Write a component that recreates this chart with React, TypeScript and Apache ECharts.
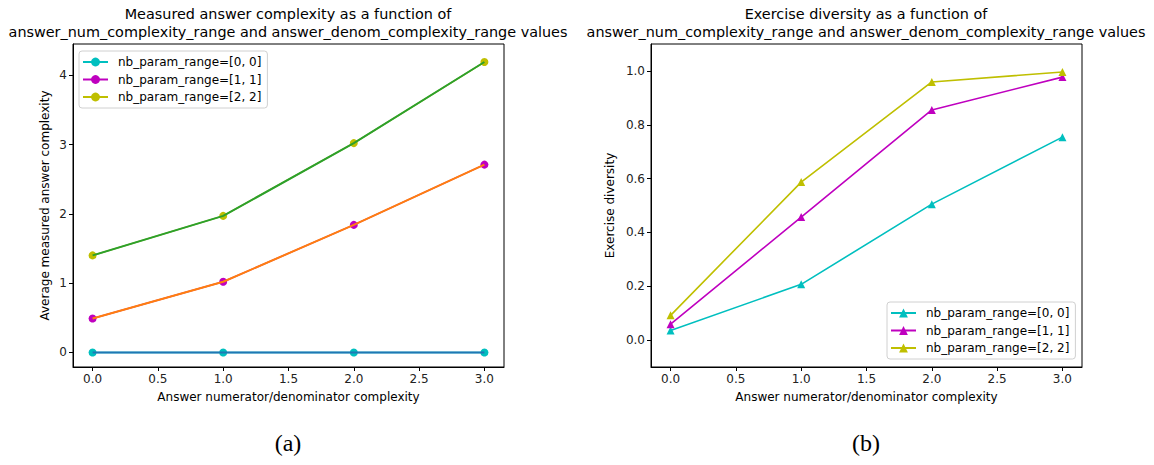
import React, { useEffect, useRef } from "react";
import * as echarts from "echarts";

const complexity = [0, 1, 2, 3];
const seriesLabels = ["nb_param_range=[0, 0]", "nb_param_range=[1, 1]", "nb_param_range=[2, 2]"];
const measured0 = [0, 0, 0, 0];
const measured1 = [0.49, 1.02, 1.84, 2.71];
const measured2 = [1.4, 1.97, 3.02, 4.19];
const diversity0 = [0.036, 0.207, 0.505, 0.754];
const diversity1 = [0.059, 0.457, 0.855, 0.977];
const diversity2 = [0.092, 0.587, 0.959, 0.996];
const xTicks = [0, 0.5, 1, 1.5, 2, 2.5, 3];
const leftYTicks = [0, 1, 2, 3, 4];
const rightYTicks = [0, 0.2, 0.4, 0.6, 0.8, 1.0];

const markerColors = ["#00bfbf", "#bf00bf", "#bfbf00"];
const lineColors = ["#1f77b4", "#ff7f0e", "#2ca02c"];

const titleA = "Measured answer complexity as a function of\nanswer_num_complexity_range and answer_denom_complexity_range values";
const titleB = "Exercise diversity as a function of\nanswer_num_complexity_range and answer_denom_complexity_range values";
const xName = "Answer numerator/denominator complexity";
const yNameA = "Average measured answer complexity";
const yNameB = "Exercise diversity";

const FONT = "DejaVu Sans";

function pairs(ys: number[]) {
  return complexity.map((x, i) => [x, ys[i]]);
}

function xAxisCfg(gridIndex: number) {
  return {
    type: "value",
    gridIndex,
    min: -0.15,
    max: 3.15,
    name: xName,
    nameLocation: "middle",
    nameGap: 24,
    nameTextStyle: { fontFamily: FONT, fontSize: 12, color: "#000" },
    axisLine: { show: true, onZero: false, lineStyle: { color: "#000", width: 1 } },
    axisTick: { show: true, customValues: xTicks, length: 4, lineStyle: { color: "#000" } },
    axisLabel: {
      customValues: xTicks,
      formatter: (v: number) => v.toFixed(1),
      fontFamily: FONT,
      fontSize: 12,
      color: "#222",
      margin: 6,
    },
    splitLine: { show: false },
  };
}

function yAxisCfg(gridIndex: number, min: number, max: number, ticks: number[], digits: number, name: string, gap: number) {
  return {
    type: "value",
    gridIndex,
    min,
    max,
    name,
    nameLocation: "middle",
    nameGap: gap,
    nameRotate: 90,
    nameTextStyle: { fontFamily: FONT, fontSize: 12, color: "#000" },
    axisLine: { show: true, onZero: false, lineStyle: { color: "#000", width: 1 } },
    axisTick: { show: true, customValues: ticks, length: 4, lineStyle: { color: "#000" } },
    axisLabel: {
      customValues: ticks,
      formatter: (v: number) => v.toFixed(digits),
      fontFamily: FONT,
      fontSize: 12,
      color: "#222",
      margin: 6,
    },
    splitLine: { show: false },
  };
}

export default function App() {
  const ref = useRef<HTMLDivElement>(null);
  useEffect(() => {
    if (!ref.current) return;
    const chart = echarts.init(ref.current, undefined, { renderer: "svg" });
    const leftMeasured = [measured0, measured1, measured2];
    const rightDiv = [diversity0, diversity1, diversity2];
    const labelMap: Record<string, string> = {};
    seriesLabels.forEach((l, i) => {
      labelMap["a" + i] = l;
      labelMap["b" + i] = l;
    });
    const series: any[] = [];
    leftMeasured.forEach((ys, i) => {
      series.push({
        name: "a" + i,
        type: "line",
        xAxisIndex: 0,
        yAxisIndex: 0,
        data: pairs(ys),
        symbol: "circle",
        symbolSize: 8,
        showAllSymbol: true,
        itemStyle: { color: markerColors[i] },
        lineStyle: { color: markerColors[i], width: 1.5 },
        z: 2,
      });
    });
    leftMeasured.forEach((ys, i) => {
      series.push({
        name: "line" + i,
        type: "line",
        xAxisIndex: 0,
        yAxisIndex: 0,
        data: pairs(ys),
        symbol: "none",
        itemStyle: { color: lineColors[i] },
        lineStyle: { color: lineColors[i], width: 2 },
        z: 3,
      });
    });
    rightDiv.forEach((ys, i) => {
      series.push({
        name: "b" + i,
        type: "line",
        xAxisIndex: 1,
        yAxisIndex: 1,
        data: pairs(ys),
        symbol: "triangle",
        symbolSize: 8,
        showAllSymbol: true,
        itemStyle: { color: markerColors[i] },
        lineStyle: { color: markerColors[i], width: 1.6 },
        z: 2,
      });
    });
    const legendCommon = {
      orient: "vertical",
      formatter: (n: string) => labelMap[n],
      itemWidth: 25,
      itemHeight: 11,
      itemGap: 5.5,
      textStyle: { fontFamily: FONT, fontSize: 12, color: "#000", padding: [0, 0, 0, 5] },
      backgroundColor: "rgba(255,255,255,0.8)",
      borderColor: "#d0d0d0",
      borderWidth: 1,
      borderRadius: 3,
      padding: [5, 6, 5, 3],
      selectedMode: false,
    };
    const textStyle = (text: string, size: number, family: string, extra: any = {}) => ({
      text,
      fontSize: size,
      fontFamily: family,
      fill: "#000",
      align: "center",
      textAlign: "center",
      verticalAlign: "top",
      textVerticalAlign: "top",
      ...extra,
    });
    chart.setOption({
      animation: false,
      backgroundColor: "#fff",
      grid: [
        { left: 73, top: 44, width: 431, height: 323, show: true, borderColor: "#000", borderWidth: 1, backgroundColor: "transparent" },
        { left: 651, top: 44, width: 431, height: 323, show: true, borderColor: "#000", borderWidth: 1, backgroundColor: "transparent" },
      ],
      xAxis: [xAxisCfg(0), xAxisCfg(1)],
      yAxis: [
        yAxisCfg(0, -0.21, 4.45, leftYTicks, 0, yNameA, 22),
        yAxisCfg(1, -0.1, 1.1, rightYTicks, 1, yNameB, 35),
      ],
      legend: [
        { ...legendCommon, data: ["a0", "a1", "a2"], left: 79, top: 51 },
        { ...legendCommon, data: ["b0", "b1", "b2"], left: 887, top: 302 },
      ],
      graphic: [
        { type: "text", x: 288, y: 5, style: textStyle(titleA, 14.4, FONT, { lineHeight: 18 }) },
        { type: "text", x: 866, y: 5, style: textStyle(titleB, 14.4, FONT, { lineHeight: 18 }) },
        { type: "text", x: 288, y: 431, style: textStyle("(a)", 24, "Liberation Serif") },
        { type: "text", x: 866, y: 431, style: textStyle("(b)", 24, "Liberation Serif") },
      ],
      series,
    });
    return () => chart.dispose();
  }, []);
  return <div ref={ref} style={{ position: "fixed", left: 0, top: 0, width: 1154, height: 465 }} />;
}
